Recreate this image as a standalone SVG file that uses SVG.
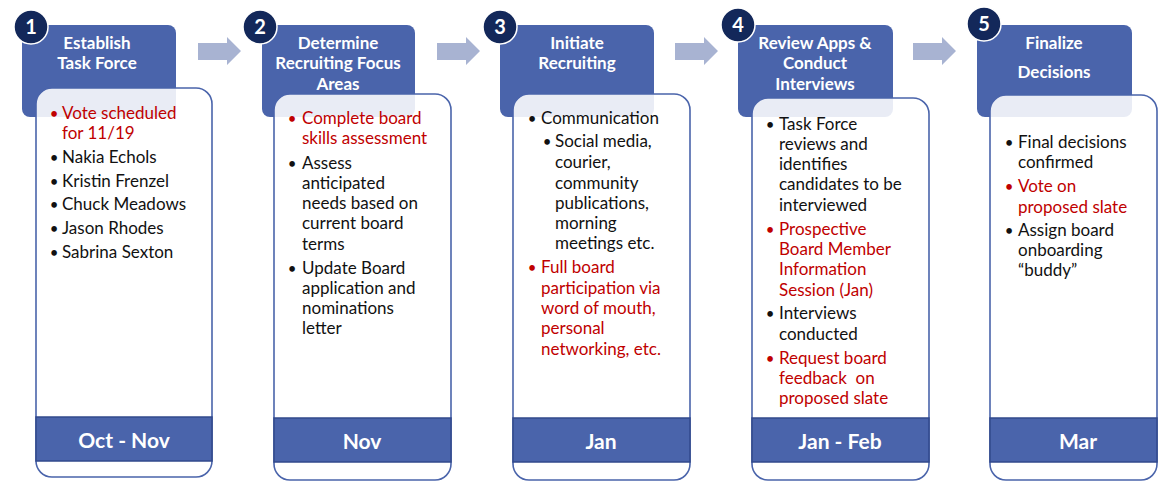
<svg xmlns="http://www.w3.org/2000/svg" width="1158" height="482" viewBox="0 0 1158 482">
<style>
.hdr{fill:#4a64ab;}
.body{fill:#ffffff;fill-opacity:0.88;stroke:#4a64ab;stroke-width:1.6;}
.foot{fill:#4a64ab;stroke:#32498c;stroke-width:1.5;}
.num{fill:#13285a;stroke:#ffffff;stroke-width:1.5;}
.arrow{fill:#a8b3d2;}
text{font-family:Lato,"Liberation Sans",sans-serif;}
.ht{fill:#ffffff;font-weight:bold;font-size:17px;text-anchor:middle;}
.ft{fill:#ffffff;font-weight:bold;font-size:21px;text-anchor:middle;}
.nt{fill:#ffffff;font-weight:bold;font-size:20px;text-anchor:middle;}
.b{fill:#111111;font-size:17px;}
.r{fill:#c00000;font-size:17px;}
.d{font-size:15px;text-anchor:middle;}
</style>
<g id="connectors">
<polygon class="arrow" points="198,43 227,43 227,37 241,51 227,65 227,60 198,60"/>
<polygon class="arrow" points="437,43 466,43 466,37 480,51 466,65 466,60 437,60"/>
<polygon class="arrow" points="675,43 704,43 704,37 718,51 704,65 704,60 675,60"/>
<polygon class="arrow" points="913,43 942,43 942,37 956,51 942,65 942,60 913,60"/>
</g>
<g id="step1">
<rect class="hdr" x="22" y="25" width="154" height="92" rx="8"/>
<text class="ht" x="97" y="49">Establish</text>
<text class="ht" x="97" y="69">Task Force</text>
<rect class="body" x="36" y="88" width="176" height="389" rx="16"/>
<rect class="foot" x="36" y="417" width="176" height="44"/>
<text class="ft" x="124" y="448">Oct - Nov</text>
<text class="r d" x="54" y="119">•</text>
<text class="r" x="62" y="119">Vote scheduled</text>
<text class="r" x="62" y="139">for 11/19</text>
<text class="b d" x="54" y="163">•</text>
<text class="b" x="62" y="163">Nakia Echols</text>
<text class="b d" x="54" y="186.5">•</text>
<text class="b" x="62" y="186.5">Kristin Frenzel</text>
<text class="b d" x="54" y="210">•</text>
<text class="b" x="62" y="210">Chuck Meadows</text>
<text class="b d" x="54" y="234">•</text>
<text class="b" x="62" y="234">Jason Rhodes</text>
<text class="b d" x="54" y="257.5">•</text>
<text class="b" x="62" y="257.5">Sabrina Sexton</text>
<circle class="num" cx="31" cy="27" r="17"/>
<text class="nt" x="31" y="34">1</text>
</g>
<g id="step2">
<rect class="hdr" x="262" y="25" width="153" height="92" rx="8"/>
<text class="ht" x="338" y="49">Determine</text>
<text class="ht" x="338" y="69">Recruiting Focus</text>
<text class="ht" x="338" y="90">Areas</text>
<rect class="body" x="274" y="94" width="177" height="386" rx="16"/>
<rect class="foot" x="274" y="418" width="177" height="44"/>
<text class="ft" x="362" y="449">Nov</text>
<text class="r d" x="292" y="124">•</text>
<text class="r" x="302" y="124">Complete board</text>
<text class="r" x="302" y="144">skills assessment</text>
<text class="b d" x="292" y="169">•</text>
<text class="b" x="302" y="169">Assess</text>
<text class="b" x="302" y="189">anticipated</text>
<text class="b" x="302" y="209">needs based on</text>
<text class="b" x="302" y="229">current board</text>
<text class="b" x="302" y="250">terms</text>
<text class="b d" x="292" y="274">•</text>
<text class="b" x="302" y="274">Update Board</text>
<text class="b" x="302" y="294">application and</text>
<text class="b" x="302" y="314">nominations</text>
<text class="b" x="302" y="334">letter</text>
<circle class="num" cx="260" cy="27" r="17"/>
<text class="nt" x="260" y="34">2</text>
</g>
<g id="step3">
<rect class="hdr" x="500" y="25" width="154" height="92" rx="8"/>
<text class="ht" x="577" y="49">Initiate</text>
<text class="ht" x="577" y="69">Recruiting</text>
<rect class="body" x="513" y="94" width="177" height="386" rx="16"/>
<rect class="foot" x="513" y="418" width="177" height="44"/>
<text class="ft" x="601" y="449">Jan</text>
<text class="b d" x="532" y="124">•</text>
<text class="b" x="541" y="124">Communication</text>
<text class="b d" x="547" y="147">•</text>
<text class="b" x="555" y="147">Social media,</text>
<text class="b" x="555" y="168">courier,</text>
<text class="b" x="555" y="189">community</text>
<text class="b" x="555" y="209">publications,</text>
<text class="b" x="555" y="229">morning</text>
<text class="b" x="555" y="249">meetings etc.</text>
<text class="r d" x="532" y="273">•</text>
<text class="r" x="541" y="273">Full board</text>
<text class="r" x="541" y="294">participation via</text>
<text class="r" x="541" y="314">word of mouth,</text>
<text class="r" x="541" y="334">personal</text>
<text class="r" x="541" y="355">networking, etc.</text>
<circle class="num" cx="500" cy="27" r="17"/>
<text class="nt" x="500" y="34">3</text>
</g>
<g id="step4">
<rect class="hdr" x="738" y="25" width="155" height="92" rx="8"/>
<text class="ht" x="815" y="49">Review Apps &amp;</text>
<text class="ht" x="815" y="69">Conduct</text>
<text class="ht" x="815" y="90">Interviews</text>
<rect class="body" x="752" y="98" width="177" height="382" rx="16"/>
<rect class="foot" x="752" y="418" width="177" height="44"/>
<text class="ft" x="840" y="449">Jan - Feb</text>
<text class="b d" x="770" y="130">•</text>
<text class="b" x="779" y="130">Task Force</text>
<text class="b" x="779" y="150">reviews and</text>
<text class="b" x="779" y="170">identifies</text>
<text class="b" x="779" y="190">candidates to be</text>
<text class="b" x="779" y="211">interviewed</text>
<text class="r d" x="770" y="235">•</text>
<text class="r" x="779" y="235">Prospective</text>
<text class="r" x="779" y="255">Board Member</text>
<text class="r" x="779" y="275">Information</text>
<text class="r" x="779" y="296">Session (Jan)</text>
<text class="b d" x="770" y="319">•</text>
<text class="b" x="779" y="319">Interviews</text>
<text class="b" x="779" y="340">conducted</text>
<text class="r d" x="770" y="364">•</text>
<text class="r" x="779" y="364">Request board</text>
<text class="r" x="779" y="384" style="white-space:pre">feedback  on</text>
<text class="r" x="779" y="404">proposed slate</text>
<circle class="num" cx="738" cy="25" r="17"/>
<text class="nt" x="738" y="32">4</text>
</g>
<g id="step5">
<rect class="hdr" x="977" y="25" width="155" height="92" rx="8"/>
<text class="ht" x="1054" y="49">Finalize</text>
<text class="ht" x="1054" y="78">Decisions</text>
<rect class="body" x="990" y="95" width="167" height="385" rx="16"/>
<rect class="foot" x="990" y="418" width="167" height="44"/>
<text class="ft" x="1078" y="449">Mar</text>
<text class="b d" x="1009" y="148">•</text>
<text class="b" x="1018" y="148">Final decisions</text>
<text class="b" x="1018" y="168">confirmed</text>
<text class="r d" x="1009" y="192">•</text>
<text class="r" x="1018" y="192">Vote on</text>
<text class="r" x="1018" y="213">proposed slate</text>
<text class="b d" x="1009" y="236">•</text>
<text class="b" x="1018" y="236">Assign board</text>
<text class="b" x="1018" y="256">onboarding</text>
<text class="b" x="1018" y="276">“buddy”</text>
<circle class="num" cx="984" cy="24" r="17"/>
<text class="nt" x="984" y="31">5</text>
</g>
</svg>
